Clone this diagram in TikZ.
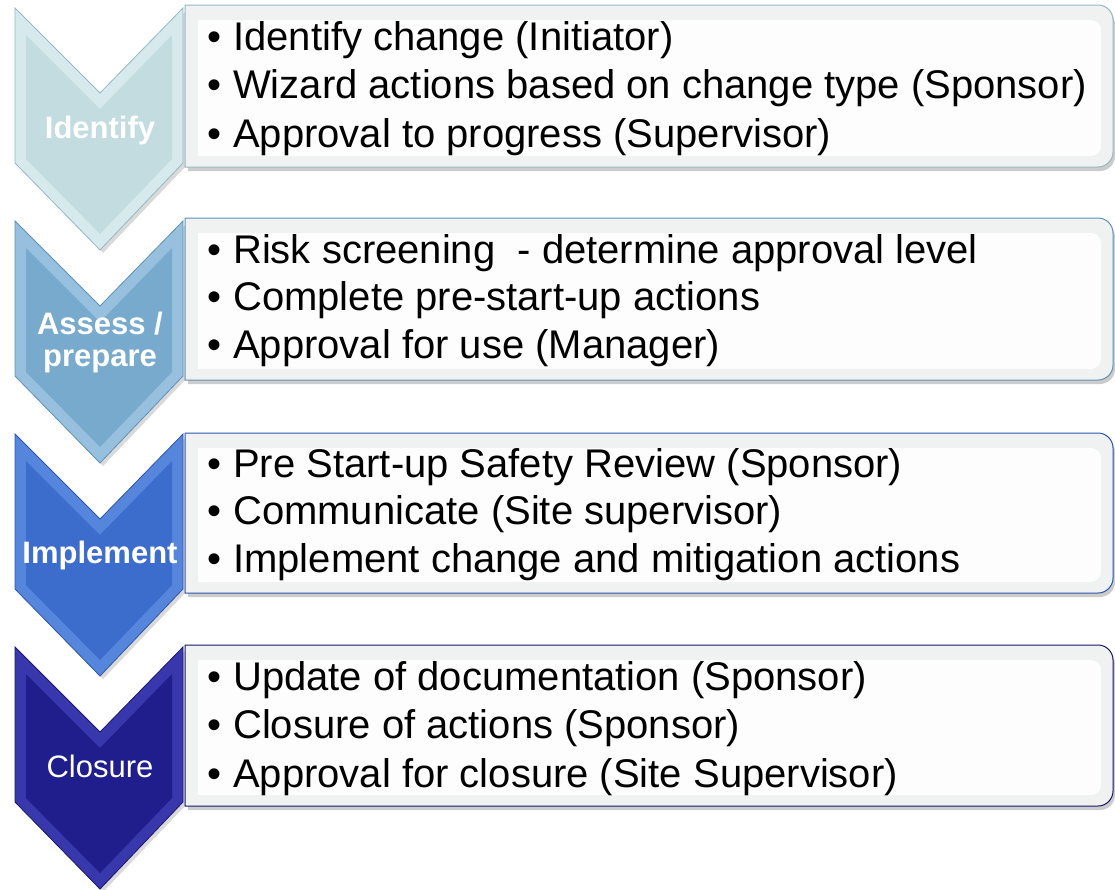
\documentclass[tikz,border=0pt]{standalone}
\usepackage{fontspec}
\setmainfont{Liberation Sans}
\definecolor{cAbase}{RGB}{194,220,224}
\definecolor{cAlite}{RGB}{214,234,237}
\definecolor{cAedge}{RGB}{150,185,192}
\definecolor{cBbase}{RGB}{120,170,205}
\definecolor{cBlite}{RGB}{150,192,222}
\definecolor{cBedge}{RGB}{95,145,185}
\definecolor{cCbase}{RGB}{60,108,204}
\definecolor{cClite}{RGB}{86,134,220}
\definecolor{cCedge}{RGB}{45,85,175}
\definecolor{cDbase}{RGB}{32,30,140}
\definecolor{cDlite}{RGB}{56,56,172}
\definecolor{cDedge}{RGB}{25,22,110}
\definecolor{bandgray}{RGB}{240,241,241}
\definecolor{innerwhite}{RGB}{253,253,253}
\tikzset{
  x=1pt, y=-1pt,
  item/.style={font=\fontsize{40}{48}\selectfont, text=black, inner sep=0pt, anchor=base west},
  bul/.style={font=\fontsize{40}{48}\selectfont, text=black, inner sep=0pt, anchor=base west},
  lab/.style={font=\fontsize{31}{34}\selectfont\bfseries, text=white, inner sep=0pt, anchor=base},
  labreg/.style={font=\fontsize{31}{34}\selectfont, text=white, inner sep=0pt, anchor=base},
}
% chevron: #1 top, #2 base colour, #3 light colour, #4 edge colour
\newcommand\chevshape[4]{%
  \fill[black, opacity=0.15] (18,{#1+3}) -- (103,{#1+88}) -- (186,{#1+3}) -- (186,{#1+158}) -- (103,{#1+245}) -- (18,{#1+158}) -- cycle;
  \fill[#3, draw=#4, line width=0.8pt] (15,#1) -- (100,{#1+85}) -- (183,#1) -- (183,{#1+155}) -- (100,{#1+242}) -- (15,{#1+155}) -- cycle;
  \fill[#2] (26,{#1+27}) -- (100,{#1+101}) -- (172,{#1+27}) -- (172,{#1+151}) -- (100,{#1+226}) -- (26,{#1+151}) -- cycle;
}
% box path: left, top, right, bottom, radius
\newcommand\rboxpath[5]{(#1,#2) -- ({#3-#5},#2) .. controls ({#3-0.45*#5},#2) and (#3,{#2+0.45*#5}) .. (#3,{#2+#5}) -- (#3,{#4-#5}) .. controls (#3,{#4-0.45*#5}) and ({#3-0.45*#5},#4) .. ({#3-#5},#4) -- (#1,#4) -- cycle}
% box: #1 top, #2 bottom, #3 border colour
\newcommand\stepbox[3]{%
  \fill[black, opacity=0.2] \rboxpath{188}{#1+4}{1115}{#2+4}{15};
  \fill[bandgray, draw=#3, line width=1pt] \rboxpath{185}{#1}{1113}{#2}{15};
  \fill[innerwhite] \rboxpath{198}{#1+15}{1101}{#2-11}{10};
}
\begin{document}
\begin{tikzpicture}
\useasboundingbox (0,0) rectangle (1115,889);
\fill[white] (0,0) rectangle (1115,889);

% chevrons
\chevshape{8}{cAbase}{cAlite}{cAedge}
\chevshape{221}{cBbase}{cBlite}{cBedge}
\chevshape{434}{cCbase}{cClite}{cCedge}
\chevshape{647}{cDbase}{cDlite}{cDedge}

% boxes
\stepbox{5}{167}{cAedge}
\stepbox{218}{380}{cBedge}
\stepbox{433}{593}{cCedge}
\stepbox{645}{806}{cDedge}

% labels
\node[lab] (lab1) at (100,138) {Identify};
\node[lab] (lab2a) at (100,334) {Assess /};
\node[lab] (lab2b) at (100,366) {prepare};
\node[lab] (lab3) at (100,563) {Implement};
\node[labreg] (lab4) at (100,777) {Closure};

% box 1
\node[bul] (b1ab) at (207,50) {•};
\node[item] (b1a) at (233,50) {Identify change (Initiator)};
\node[bul] (b1bb) at (207,98) {•};
\node[item] (b1b) at (233,98) {Wizard actions based on change type (Sponsor)};
\node[bul] (b1cb) at (207,147) {•};
\node[item] (b1c) at (233,147) {Approval to progress (Supervisor)};

% box 2
\node[bul] (b2ab) at (207,263) {•};
\node[item] (b2a) at (233,263) {Risk screening\ \ - determine approval level};
\node[bul] (b2bb) at (207,310) {•};
\node[item] (b2b) at (233,310) {Complete pre-start-up actions};
\node[bul] (b2cb) at (207,358) {•};
\node[item] (b2c) at (233,358) {Approval for use (Manager)};

% box 3
\node[bul] (b3ab) at (207,477) {•};
\node[item] (b3a) at (233,477) {Pre Start-up Safety Review (Sponsor)};
\node[bul] (b3bb) at (207,524) {•};
\node[item] (b3b) at (233,524) {Communicate (Site supervisor)};
\node[bul] (b3cb) at (207,572) {•};
\node[item] (b3c) at (233,572) {Implement change and mitigation actions};

% box 4
\node[bul] (b4ab) at (207,690) {•};
\node[item] (b4a) at (233,690) {Update of documentation (Sponsor)};
\node[bul] (b4bb) at (207,738) {•};
\node[item] (b4b) at (233,738) {Closure of actions (Sponsor)};
\node[bul] (b4cb) at (207,787) {•};
\node[item] (b4c) at (233,787) {Approval for closure (Site Supervisor)};
\end{tikzpicture}
\end{document}
